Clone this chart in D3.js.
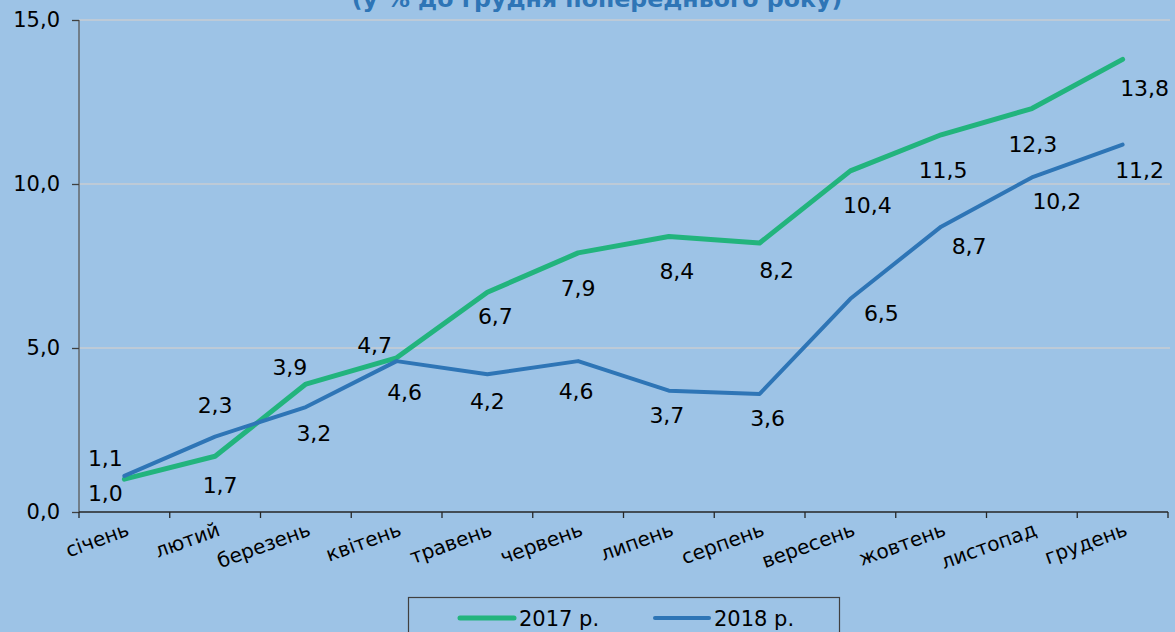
<!DOCTYPE html>
<html>
<head>
<meta charset="utf-8">
<script src="https://cdn.jsdelivr.net/npm/d3@7/dist/d3.min.js"></script>
<style>
  html, body { margin: 0; padding: 0; background: #9dc3e6; }
  svg { display: block; font-family: "DejaVu Sans", Verdana, sans-serif; }
</style>
</head>
<body>
<svg id="chart" width="1175" height="632"></svg>
<script>
// Monthly cumulative price change, % to December of the previous year
const months = ["січень", "лютий", "березень", "квітень", "травень", "червень",
                "липень", "серпень", "вересень", "жовтень", "листопад", "грудень"];
const values2017 = [1.0, 1.7, 3.9, 4.7, 6.7, 7.9, 8.4, 8.2, 10.4, 11.5, 12.3, 13.8];
const values2018 = [1.1, 2.3, 3.2, 4.6, 4.2, 4.6, 3.7, 3.6, 6.5, 8.7, 10.2, 11.2];
const seriesNames = ["2017 р.", "2018 р."];
const yTickValues = [0, 5, 10, 15];
const subtitle = "(у % до грудня попереднього року)";

// Where each value label sits relative to its point (dx, dy of the text centre)
const labelShift2017 = [[-19, 14], [5, 29], [-16, -17], [-22, -13], [8, 24], [0, 35],
                        [8, 35], [17, 27], [17, 34], [2, 35], [1, 36], [22, 29]];
const labelShift2018 = [[-19, -18], [0, -31], [8, 26], [8, 31], [0, 27], [-2, 30],
                        [-2, 24], [8, 24], [31, 14], [28, 19], [25, 24], [17, 25]];

const colors = ["#22b47d", "#2e75b6"];
const fmt = v => v.toFixed(1).replace(".", ",");

const svg = d3.select("#chart");
const plot = { left: 79, right: 1168, top: 20, bottom: 512 };

const x = d3.scaleBand().domain(months).range([plot.left, plot.right]).paddingInner(0).paddingOuter(0);
const y = d3.scaleLinear().domain([0, 15]).range([plot.bottom, plot.top]);
const cx = m => x(m) + x.bandwidth() / 2;

// subtitle, partly above the visible area
const title = svg.append("text")
  .attr("x", 597).attr("y", 7)
  .attr("text-anchor", "middle")
  .attr("fill", "#2e75b6")
  .attr("font-weight", "bold")
  .attr("font-size", 20)
  .text(subtitle);
const tw = title.node().getComputedTextLength();
title.attr("font-size", 20 * 491 / tw);

// horizontal gridlines
svg.append("g").selectAll("line")
  .data(yTickValues.filter(v => v > 0))
  .join("line")
  .attr("x1", plot.left).attr("x2", plot.right + 2)
  .attr("y1", d => y(d)).attr("y2", d => y(d))
  .attr("stroke", "#c8ccd2").attr("stroke-width", 1.5);

// y axis
const yAxis = svg.append("g")
  .attr("transform", `translate(${plot.left},0)`)
  .call(d3.axisLeft(y).tickValues(yTickValues).tickSize(7).tickPadding(12).tickFormat(fmt));
yAxis.select(".domain").attr("stroke", "#595959").attr("stroke-width", 1.3)
  .attr("d", `M0,${plot.bottom}V${plot.top}`);
yAxis.selectAll(".tick line").attr("stroke", "#404040").attr("stroke-width", 1.3);
yAxis.selectAll(".tick text").attr("font-size", 21).attr("fill", "#000")
  .attr("font-family", "DejaVu Sans, Verdana, sans-serif");

// x axis: baseline and ticks at category boundaries
const xAxis = svg.append("g");
xAxis.append("line")
  .attr("x1", plot.left).attr("x2", plot.right)
  .attr("y1", plot.bottom).attr("y2", plot.bottom)
  .attr("stroke", "#262626").attr("stroke-width", 1.3);
const boundaries = months.map(m => x(m)).concat([x(months[months.length - 1]) + x.bandwidth()]);
xAxis.selectAll("line.tick")
  .data(boundaries)
  .join("line").attr("class", "tick")
  .attr("x1", d => d).attr("x2", d => d)
  .attr("y1", plot.bottom).attr("y2", plot.bottom + 6)
  .attr("stroke", "#262626").attr("stroke-width", 1.3);
xAxis.selectAll("text")
  .data(months)
  .join("text")
  .attr("transform", d => `translate(${cx(d) + 6},${plot.bottom + 23}) rotate(-20)`)
  .attr("text-anchor", "end")
  .attr("font-size", 20)
  .attr("fill", "#000")
  .text(d => d);

// lines
const series = [values2017, values2018];
const line = d3.line().x((d, i) => cx(months[i])).y(d => y(d));
svg.append("g").selectAll("path")
  .data(series)
  .join("path")
  .attr("d", d => line(d))
  .attr("fill", "none")
  .attr("stroke", (d, i) => colors[i])
  .attr("stroke-width", (d, i) => i === 0 ? 5 : 4)
  .attr("stroke-linejoin", "round")
  .attr("stroke-linecap", "round");

// value labels
const shifts = [labelShift2017, labelShift2018];
series.forEach((vals, s) => {
  svg.append("g").selectAll("text")
    .data(vals)
    .join("text")
    .attr("x", (d, i) => cx(months[i]) + shifts[s][i][0])
    .attr("y", (d, i) => y(d) + shifts[s][i][1])
    .attr("dy", "0.36em")
    .attr("text-anchor", "middle")
    .attr("font-size", 22)
    .attr("fill", "#000")
    .text(d => fmt(d));
});

// legend
const legend = svg.append("g");
legend.append("rect")
  .attr("x", 408.5).attr("y", 597.5).attr("width", 431).attr("height", 60)
  .attr("fill", "none").attr("stroke", "#404040").attr("stroke-width", 1.2);
const legendX = [460, 655];
seriesNames.forEach((name, i) => {
  legend.append("line")
    .attr("x1", legendX[i]).attr("x2", legendX[i] + 54)
    .attr("y1", 618).attr("y2", 618)
    .attr("stroke", colors[i]).attr("stroke-width", i === 0 ? 5 : 4)
    .attr("stroke-linecap", "round");
  legend.append("text")
    .attr("x", legendX[i] + 59).attr("y", 626)
    .attr("font-size", 21).attr("fill", "#000")
    .text(name);
});
</script>
</body>
</html>
